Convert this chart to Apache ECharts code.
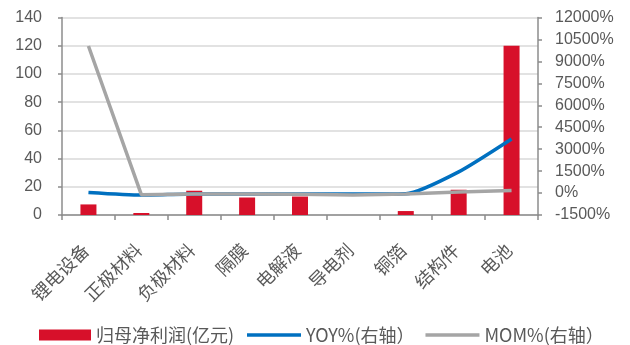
<!DOCTYPE html>
<html>
<head>
<meta charset="utf-8">
<script src="https://cdn.jsdelivr.net/npm/echarts@6/dist/echarts.min.js"></script>
<style>html,body{margin:0;padding:0;background:#fff}#c{width:630px;height:345px}</style>
</head>
<body>
<div id="c"></div>
<script>
const categories = ['锂电设备','正极材料','负极材料','隔膜','电解液','导电剂','铜箔','结构件','电池'];
const profit = [7.5, 1.4, 17.2, 12.4, 13.1, 0, 2.8, 17.9, 120];
const yoy = [40, -140, -60, -60, -60, -70, -50, 1450, 3700];
const mom = [10050, -110, -60, -70, -90, -140, -70, 70, 180];
const leftTicks = [0, 140, 20];
const rightTicks = [-1500, 12000, 1500];
const names = ['归母净利润(亿元)', 'YOY%(右轴）', 'MOM%(右轴）'];

const txt = '#595959';
const axisLine = {show:true, lineStyle:{color:'#8c8c8c', width:1.5}};
const legendText = {color:txt, fontSize:18, fontFamily:'Noto Sans CJK SC'};
const chart = echarts.init(document.getElementById('c'));
chart.setOption({
  animation:false,
  grid:{left:62, right:92, top:17.5, bottom:130},
  legend:[{
    left:39, top:326, padding:0, itemWidth:52, itemHeight:11, itemGap:10,
    textStyle:legendText, icon:'rect',
    data:[names[0]]
  },{
    left:247, top:326, padding:0, itemWidth:54, itemHeight:3.5, itemGap:11,
    textStyle:legendText, icon:'rect',
    data:[names[1], names[2]]
  }],
  xAxis:{
    type:'category', data:categories, boundaryGap:true,
    axisLine:axisLine,
    axisTick:{show:true, length:5, lineStyle:{color:'#8c8c8c', width:1.5}},
    axisLabel:{rotate:45, margin:29, padding:[0,4,0,0], fontSize:18, color:txt, fontFamily:'Noto Sans CJK SC', interval:0}
  },
  yAxis:[{
    type:'value', min:leftTicks[0], max:leftTicks[1], interval:leftTicks[2],
    axisLine:axisLine,
    axisTick:{show:true, length:4, lineStyle:{color:'#8c8c8c', width:1.5}},
    axisLabel:{fontSize:16, color:txt, fontFamily:'Liberation Sans', margin:20},
    splitLine:{show:true, lineStyle:{color:'#d9d9d9', width:1.5}}
  },{
    type:'value', min:rightTicks[0], max:rightTicks[1], interval:rightTicks[2],
    position:'right',
    axisLine:axisLine,
    axisTick:{show:true, length:4, inside:false, lineStyle:{color:'#8c8c8c', width:1.5}},
    axisLabel:{fontSize:16, color:txt, fontFamily:'Liberation Sans', margin:17, formatter:v=>v+'%'},
    splitLine:{show:false}
  }],
  series:[{
    name:names[0], type:'bar', data:profit, barWidth:16,
    itemStyle:{color:'#d7102a'}
  },{
    name:names[1], type:'line', yAxisIndex:1, data:yoy, smooth:0.2,
    symbol:'none', lineStyle:{color:'#0070c0', width:3.5}, itemStyle:{color:'#0070c0'}
  },{
    name:names[2], type:'line', yAxisIndex:1, data:mom, smooth:false,
    symbol:'none', lineStyle:{color:'#a5a5a5', width:3.5}, itemStyle:{color:'#a5a5a5'}
  }]
});
</script>
</body>
</html>
